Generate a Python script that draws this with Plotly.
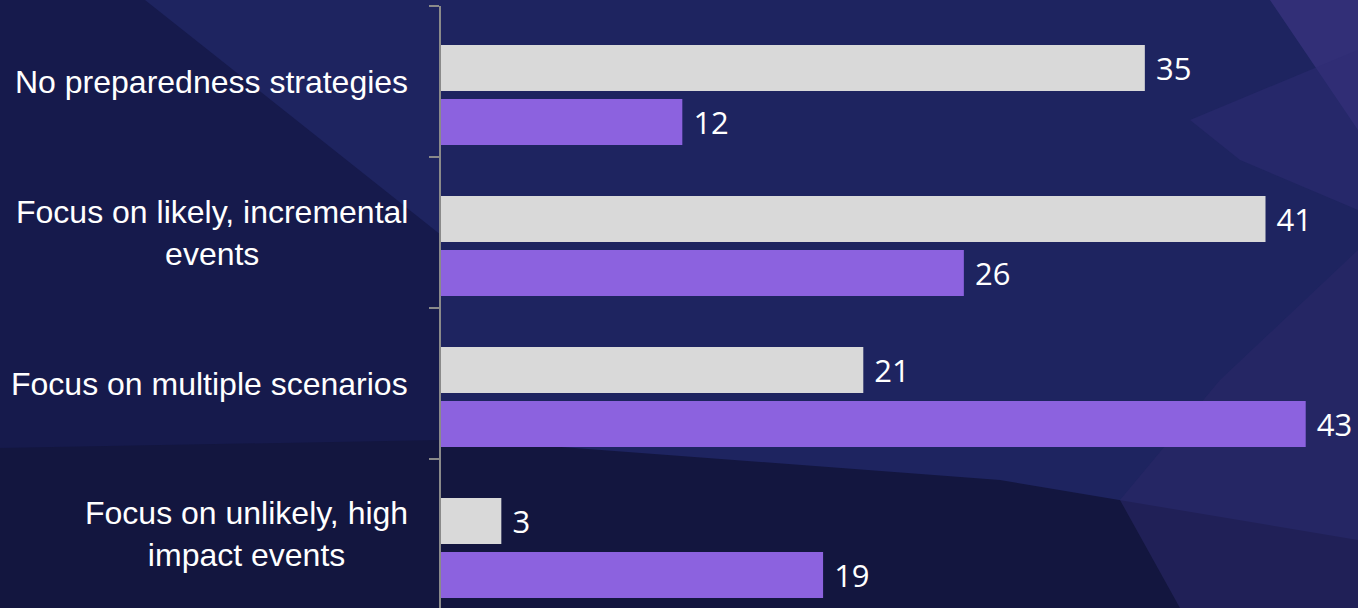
import plotly.graph_objects as go

categories = [
    "No preparedness strategies",
    "Focus on likely, incremental events",
    "Focus on multiple scenarios",
    "Focus on unlikely, high impact events",
]
label_lines = [
    "No preparedness strategies",
    "Focus on likely, incremental<br>events",
    "Focus on multiple scenarios",
    "Focus on unlikely, high<br>impact events",
]
series_gray = [35, 41, 21, 3]
series_purple = [12, 26, 43, 19]

W, H = 1358, 608
ML, MR, MT, MB = 441, 0, 6, 0
PW, PH = W - ML - MR, H - MT - MB


def px(xp, yp):
    return (xp - ML) / PW, (H - MB - yp) / PH


def poly(points, color, opacity=1.0):
    pts = [px(x, y) for x, y in points]
    path = "M " + " L ".join(f"{a:.5f},{b:.5f}" for a, b in pts) + " Z"
    return dict(type="path", xref="paper", yref="paper", path=path,
                fillcolor=color, line=dict(width=0), layer="below", opacity=opacity)


shapes = [
    poly([(0, 0), (1358, 0), (1358, 608), (0, 608)], "#13163f"),
    poly([(0, 0), (441, 0), (441, 440), (0, 448)], "#161a4c"),
    poly([(145, 0), (1358, 0), (1358, 540), (1000, 480), (441, 438), (441, 235)], "#1e2460"),
    poly([(1358, 250), (1358, 608), (1180, 608), (1120, 500), (1220, 380)], "#2a2868", 0.6),
    poly([(1270, 0), (1358, 0), (1358, 130)], "#3a3482", 0.7),
    poly([(1190, 120), (1358, 50), (1358, 210), (1240, 160)], "#2d2c74", 0.5),
]

fig = go.Figure()
fig.add_trace(go.Bar(
    y=categories, x=series_gray, orientation="h",
    marker=dict(color="#d9d9d9", line=dict(width=0)),
    offset=-0.2417, width=0.3046,
    text=series_gray, texttemplate=" %{x}", textposition="outside",
    textfont=dict(family="Open Sans", size=31, color="white"),
    constraintext="none", cliponaxis=False, showlegend=False,
))
fig.add_trace(go.Bar(
    y=categories, x=series_purple, orientation="h",
    marker=dict(color="#8c62df", line=dict(width=0)),
    offset=0.1159, width=0.3046,
    text=series_purple, texttemplate=" %{x}", textposition="outside",
    textfont=dict(family="Open Sans", size=31, color="white"),
    constraintext="none", cliponaxis=False, showlegend=False,
))

annotations = []
for cat, lab in zip(categories, label_lines):
    annotations.append(dict(
        xref="paper", yref="y", x=0, y=cat, xanchor="right", yanchor="middle",
        xshift=-31, text=lab, align="center", showarrow=False,
        font=dict(family="Liberation Sans, Arial", size=32, color="white"),
    ))

fig.update_layout(
    width=W, height=H,
    margin=dict(l=ML, r=MR, t=MT, b=MB, pad=0),
    paper_bgcolor="#13163f",
    plot_bgcolor="rgba(0,0,0,0)",
    barmode="overlay",
    shapes=shapes,
    annotations=annotations,
    xaxis=dict(range=[0, 45.6], visible=False, fixedrange=True),
    yaxis=dict(
        type="category", categoryorder="array", categoryarray=categories,
        range=[3.4868, -0.5], showticklabels=False,
        showline=True, linecolor="#8a8a8a", linewidth=2,
        ticks="outside", tickson="boundaries", ticklen=10, tickwidth=2,
        tickcolor="#8a8a8a", showgrid=False, zeroline=False,
    ),
)

fig.write_html("out.html")
